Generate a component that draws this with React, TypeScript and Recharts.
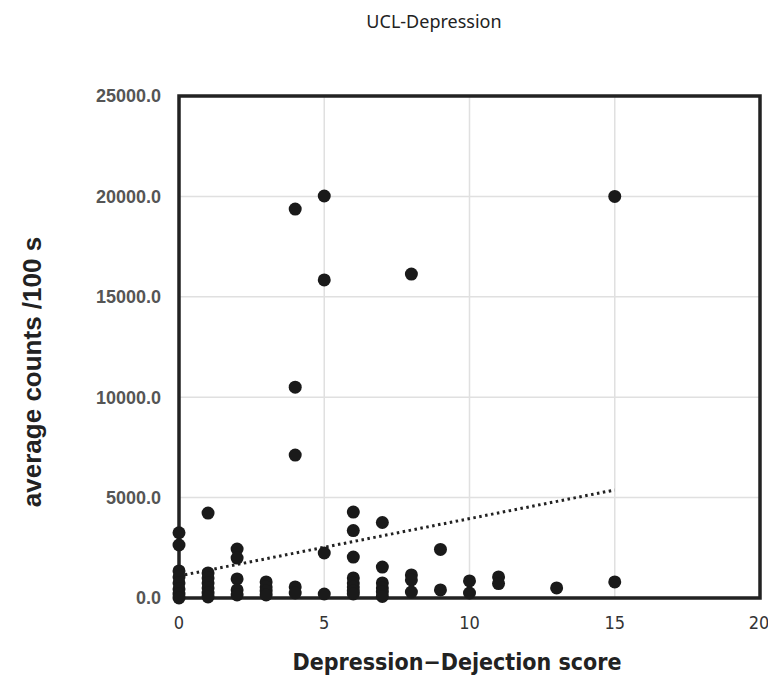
import React from 'react';
import { ScatterChart, Scatter, XAxis, YAxis, CartesianGrid, ReferenceArea, ReferenceLine, Label } from 'recharts';

const scores: number[] = [
  0, 0, 0, 0, 0, 0, 0, 0,
  1, 1, 1, 1, 1, 1, 1,
  2, 2, 2, 2, 2,
  3, 3, 3, 3,
  4, 4, 4, 4, 4,
  5, 5, 5, 5,
  6, 6, 6, 6, 6, 6, 6, 6,
  7, 7, 7, 7, 7, 7,
  8, 8, 8, 8,
  9, 9,
  10, 10,
  11, 11,
  13,
  15, 15,
];
const counts: number[] = [
  3250, 2640, 1350, 1050, 750, 450, 200, 0,
  4230, 1250, 1000, 750, 500, 250, 50,
  2440, 1990, 950, 400, 150,
  800, 550, 350, 150,
  19370, 10500, 7120, 550, 250,
  20020, 15840, 2240, 200,
  4280, 3360, 2040, 1000, 750, 550, 350, 200,
  3760, 1540, 750, 500, 300, 80,
  16130, 1150, 900, 300,
  2420, 400,
  850, 250,
  1050, 720,
  500,
  20000, 800,
];

const xTicks = [0, 5, 10, 15, 20];
const yTicks = [0, 5000, 10000, 15000, 20000, 25000];
const trendX = [0, 15];
const trendY = [1100, 5380];

const points = scores.map((s, i) => ({ x: s, y: counts[i] }));

const Dot = (props: any) => {
  const { cx, cy } = props;
  if (cx == null || cy == null) return null;
  return <circle cx={cx} cy={cy} r={6.5} fill="#1a1a1a" />;
};

export default function App() {
  return (
    <div style={{ position: 'absolute', left: 0, top: 0, width: 768, height: 677, background: '#fff' }}>
      <div
        style={{
          position: 'absolute', left: 0, top: 9, width: 868, textAlign: 'center',
          fontFamily: '"Noto Sans", sans-serif', fontSize: 18, color: '#222',
        }}
      >
        UCL-Depression
      </div>
      <ScatterChart width={768} height={677} margin={{ top: 96, right: 8, bottom: 0, left: 0 }}>
        <CartesianGrid stroke="#e0e0e0" strokeWidth={1.5} />
        <XAxis
          type="number"
          dataKey="x"
          domain={[0, 20]}
          ticks={xTicks}
          height={79}
          axisLine={false}
          tickLine={false}
          tick={{ fill: '#333', fontSize: 18, fontFamily: '"DejaVu Sans Condensed", "DejaVu Sans", sans-serif' }}
          tickMargin={12}
        >
          <Label
            content={() => (
              <text x={457} y={670} textAnchor="middle" fill="#222"
                style={{ fontSize: 23, fontWeight: 'bold', fontFamily: '"DejaVu Sans Condensed", "DejaVu Sans", sans-serif' }}>
                Depression−Dejection score
              </text>
            )}
          />
        </XAxis>
        <YAxis
          type="number"
          dataKey="y"
          domain={[0, 25000]}
          ticks={yTicks}
          width={179}
          axisLine={false}
          tickLine={false}
          tickFormatter={(v: number) => v.toFixed(1)}
          tick={{ fill: '#555', fontSize: 18, fontWeight: 'bold', fontFamily: '"Liberation Sans", Arial, sans-serif' }}
          tickMargin={12}
        >
          <Label
            content={() => (
              <text x={41} y={372} textAnchor="middle" fill="#222" transform="rotate(-90, 41, 372)"
                style={{ fontSize: 26, fontWeight: 'bold', fontFamily: '"Liberation Sans", Arial, sans-serif' }}>
                average counts /100 s
              </text>
            )}
          />
        </YAxis>
        <ReferenceArea x1={0} x2={20} y1={0} y2={25000} fill="none" stroke="#222" strokeWidth={3.5} ifOverflow="extendDomain" />
        <ReferenceLine
          segment={[{ x: trendX[0], y: trendY[0] }, { x: trendX[1], y: trendY[1] }]}
          stroke="#222"
          strokeWidth={3}
          strokeDasharray="2.5 3.5"
        />
        <Scatter data={points} fill="#1a1a1a" shape={<Dot />} isAnimationActive={false} />
      </ScatterChart>
    </div>
  );
}
